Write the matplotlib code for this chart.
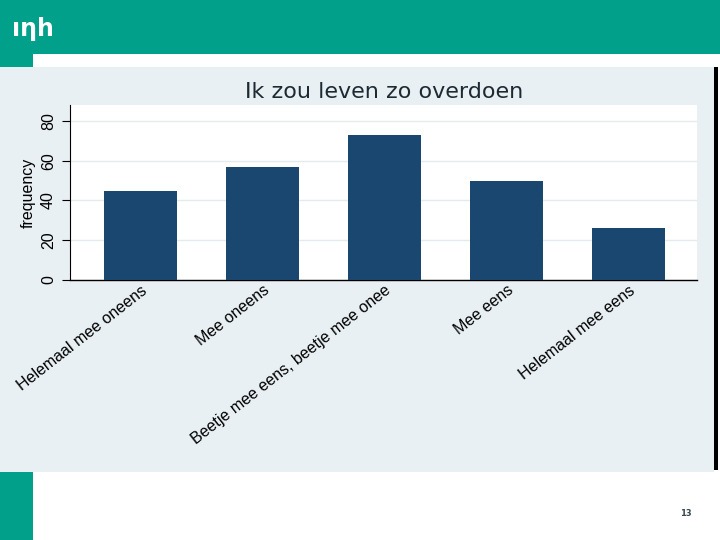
import matplotlib.pyplot as plt
from matplotlib.patches import Rectangle

categorieen = ["Helemaal mee oneens", "Mee oneens", "Beetje mee eens, beetje mee onee",
               "Mee eens", "Helemaal mee eens"]
frequenties = [45, 57, 73, 50, 26]
y_ticks = [0, 20, 40, 60, 80]

TEAL = "#00A08A"
ACHTERGROND = "#E8F0F3"
NAVY = "#1A476F"

W, H = 720, 540
fig = plt.figure(figsize=(7.2, 5.4), dpi=100)
fig.patch.set_facecolor("white")


def rect(x0, y0, x1, y1, kleur):
    # pixelcoordinaten (y van boven) -> figuurfracties
    fig.patches.append(Rectangle((x0 / W, 1 - y1 / H), (x1 - x0) / W, (y1 - y0) / H,
                                 transform=fig.transFigure, color=kleur, zorder=-5, lw=0))


rect(0, 0, W, 54, TEAL)
rect(0, 54, 33, 67, TEAL)
rect(0, 67, 714, 472, ACHTERGROND)
rect(0, 472, 33, H, TEAL)
rect(714, 67, 718, 470, "black")

fig.text(12 / W, 1 - 29 / H, "ıηh", color="white", fontsize=17, fontweight="bold",
         va="center", ha="left", family="DejaVu Sans")
fig.text(686 / W, 1 - 514 / H, "13", color="#37474F", fontsize=6, fontweight="bold",
         ha="center", va="center")

ax = fig.add_axes([70 / W, 260 / H, 627 / W, 175 / H])
ax.set_facecolor("white")
x = list(range(len(categorieen)))
ax.bar(x, frequenties, width=0.6, color=NAVY, zorder=3)
ax.set_xlim(-0.578, 4.56)
ax.set_ylim(0, 88)
ax.set_yticks(y_ticks)
ax.set_yticklabels([str(v) for v in y_ticks], rotation=90, va="center",
                   family="Liberation Sans", fontsize=11.5)
ax.set_xticks(x)
ax.set_xticklabels(categorieen, rotation=38, ha="right", rotation_mode="anchor",
                   family="Liberation Sans", fontsize=11.5)
ax.tick_params(axis="x", length=0, pad=2)
ax.tick_params(axis="y", length=6, width=0.8, pad=4)
ax.grid(axis="y", color="#E3EBEE", lw=1, zorder=0)
for s in ["top", "right"]:
    ax.spines[s].set_visible(False)
ax.spines["left"].set_linewidth(0.8)
ax.spines["bottom"].set_linewidth(1)
ax.set_ylabel("frequency", family="Liberation Sans", fontsize=11.5, labelpad=4)
fig.text(384 / W, 1 - 92 / H, "Ik zou leven zo overdoen", ha="center", va="center",
         fontsize=16, color="#1E2A33", family="DejaVu Sans")

fig.savefig("out.png", dpi=100)
